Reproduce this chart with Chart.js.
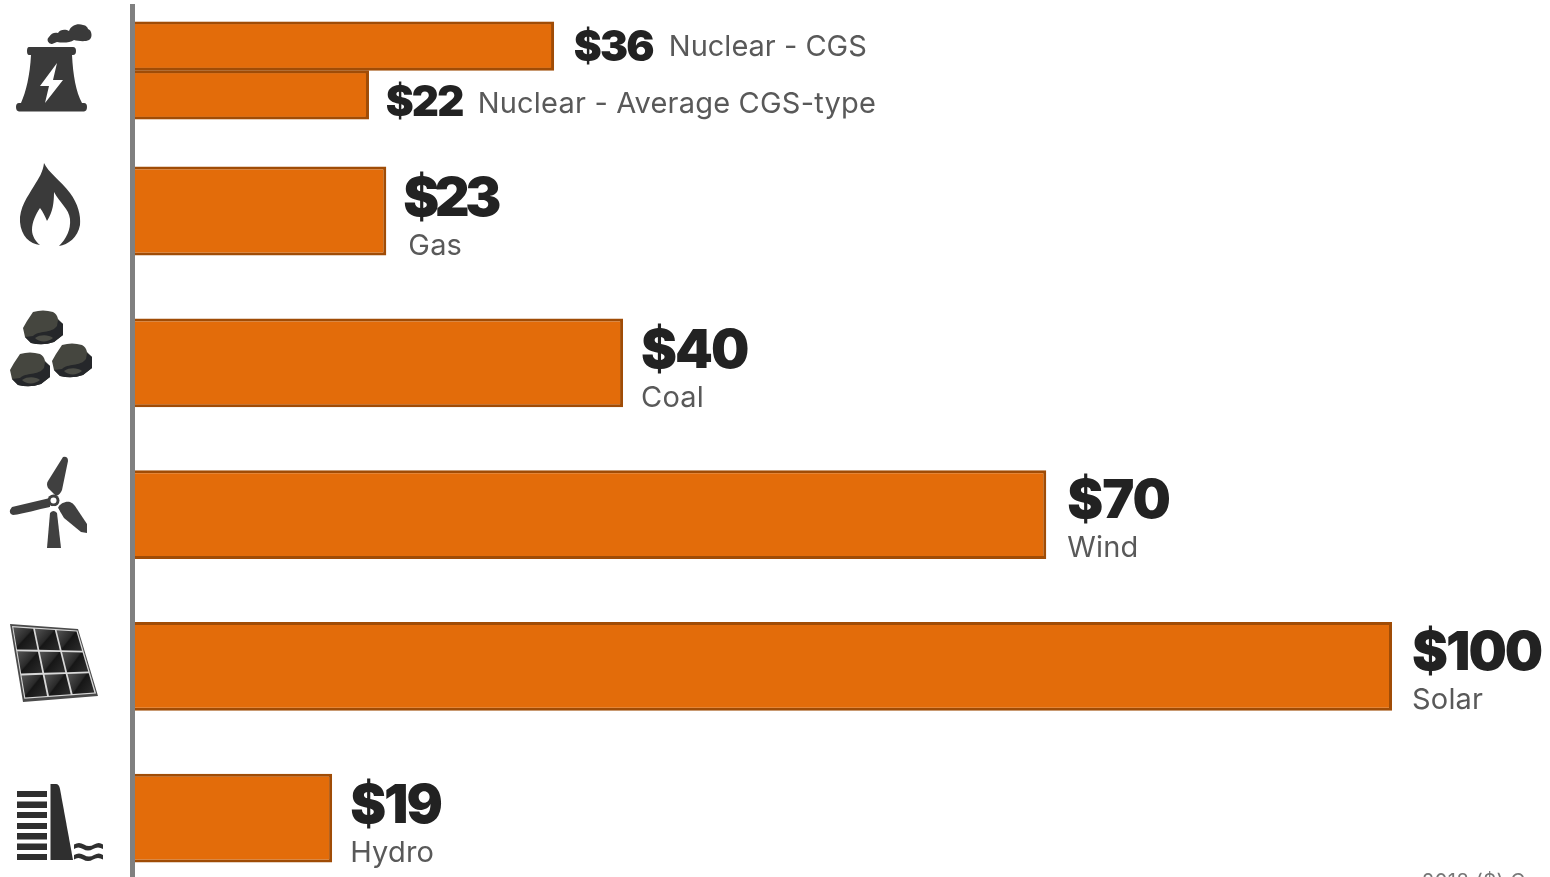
<!DOCTYPE html>
<html><head><meta charset="utf-8">
<script src="https://cdn.jsdelivr.net/npm/chart.js@4"></script>
<style>html,body{margin:0;padding:0;background:#fff;overflow:hidden;width:1550px;height:877px}canvas{display:block}</style>
</head><body><canvas id="c" width="1550" height="894"></canvas>
<script>
// Bar lengths on a 0-100 axis (drawn lengths are not strictly proportional to the printed prices)
const nuclearCategories = ["Nuclear - CGS", "Nuclear - Average CGS-type"];
const nuclearValues = [33.45, 18.75];
const nuclearPrices = ["$36", "$22"];
const sourceCategories = ["Gas", "Coal", "Wind", "Solar", "Hydro"];
const sourceValues = [20.15, 38.95, 72.55, 100, 15.85];
const sourcePrices = ["$23", "$40", "$70", "$100", "$19"];
const footnote = "2018 ($) Cost";

const FILL = "#E36C0A", EDGE = "#A04C06";
const VALUE_COLOR = "#222222", LABEL_COLOR = "#595959";
const VALUE_FAMILY = '"Inter", "Open Sans", sans-serif';
const LABEL_FAMILY = '"Inter", "Open Sans", sans-serif';

function text(ctx, s, x, y, font, color, spacing) {
  ctx.font = font; ctx.fillStyle = color; ctx.textAlign = "left"; ctx.textBaseline = "alphabetic";
  ctx.letterSpacing = (spacing || 0) + "px";
  ctx.fillText(s, x, y);
  ctx.letterSpacing = "0px";
}

const labelPlugin = {
  id: "labels",
  afterDraw(chart) {
    const ctx = chart.ctx, x = chart.scales.x;
    ctx.save();
    const yn = chart.scales.yN, y = chart.scales.y;
    nuclearCategories.forEach((c, i) => {
      const bx = x.getPixelForValue(nuclearValues[i]), cy = yn.getPixelForValue(i);
      const vx = bx + (i === 0 ? 20 : 17);
      text(ctx, nuclearPrices[i], vx, cy + (i === 0 ? 15 : 21), "900 42px " + VALUE_FAMILY, VALUE_COLOR, -1.8);
      text(ctx, c, vx + (i === 0 ? 95 : 92), cy + (i === 0 ? 10 : 18), "400 29px " + LABEL_FAMILY, LABEL_COLOR, i === 0 ? 0 : 0.2);
    });
    const nudge = [0, 0, -2, -1.5, 0];
    const spacing = [-4.5, -2, -1, -2, -2];
    const gap = [17, 18, 21, 20, 18];
    sourceCategories.forEach((c, i) => {
      const bx = x.getPixelForValue(sourceValues[i]), cy = y.getPixelForValue(i) + nudge[i];
      const vx = bx + gap[i];
      text(ctx, sourcePrices[i], vx, cy + 5, "900 54px " + VALUE_FAMILY, VALUE_COLOR, spacing[i]);
      text(ctx, c, vx + (i === 0 ? 5 : 0), cy + 44, "400 29px " + LABEL_FAMILY, LABEL_COLOR, 0.2);
    });
    text(ctx, footnote, 1422, 888, "400 20px " + LABEL_FAMILY, "#777777", 0.5);
    drawIcons(ctx);
    ctx.restore();
  }
};

function drawIcons(ctx) {
  const dark = "#3a3a3a";
  // power station
  ctx.fillStyle = dark;
  ctx.fill(new Path2D("M29 47H73Q76 47 76 51T73 55H72C73 75 76 92 82 103H84Q87 103 87 107T84 111.500H19Q16 111 16 107T19 103H21C26 92 30 75 31 55H29Q27 55 27 51T29 47Z"));
  ctx.fill(new Path2D("M52 44A4 4 0 0 1 49 37C51 33 55 32 58 33C60 29 66 29 69 31C71 25 78 23 83 25C86 25 88 28 88 29C92 30 93 38 89 40C85 42 78 41 74 40C70 43 62 43 57 42Z"));
  ctx.fillStyle = "#fff";
  ctx.fill(new Path2D("M57 63L40 86H49L45 103L63 80H53Z"));
  // flame
  ctx.fillStyle = dark;
  ctx.fill(new Path2D("M44 163C48 172 60 180 70 193C78 204 81 215 80 225C78 237 68 245 59 246C66 239 71 230 70 219C69 209 60 203 54 192C54 202 53 212 47 221C45 216 43 212 40 208C36 214 32 222 32 230C32 236 36 242 40 245C30 244 21 236 20 222C19 208 28 196 34 186C39 178 43 172 44 163Z"));
  // coal
  const rock = (dx, dy) => {
    ctx.save(); ctx.translate(dx, dy);
    ctx.fillStyle = "#45463f";
    ctx.fill(new Path2D("M10 2Q20 -1 30 2Q34 4 35 9L40 14V25L31 32Q20 36 8 33L2 27L0 18L4 11Z"));
    ctx.fillStyle = "#25272a";
    ctx.fill(new Path2D("M35 10L40 14V25L31 32Q20 36 8 33L2 27L10 26C16 20 28 24 34 16Z"));
    ctx.fillStyle = "#4c4d46";
    ctx.fill(new Path2D("M12 28C18 24 26 25 30 28C24 33 16 32 12 28Z"));
    ctx.restore();
  };
  rock(23, 310); rock(10, 352); rock(52, 343);
  // wind turbine
  ctx.fillStyle = "#404040";
  ctx.fill(new Path2D("M63 457Q68 456 68 461L62 490Q60 495 56 496L48 488Q46 484 48 481Z"));
  ctx.fill(new Path2D("M12 507L50 498L50 507C38 509 24 514 13 515Q9 514 10 510Z"));
  ctx.fill(new Path2D("M58 508C60 503 66 501 70 502Q73 503 75 506L87 524V533L81 532L64 518Z"));
  ctx.beginPath(); ctx.arc(53.5, 500.5, 6, 0, 7); ctx.fill();
  ctx.fillStyle = "#fff";
  ctx.beginPath(); ctx.arc(53.5, 500.5, 3, 0, 7); ctx.fill();
  ctx.beginPath(); ctx.arc(53.5, 512, 6, Math.PI, 0); ctx.fill();
  ctx.fillStyle = "#404040";
  ctx.fill(new Path2D("M50 513Q53.500 509 57 513L61 548H47Z"));
  // solar panel
  const P = [[10, 624], [78, 629], [98, 696], [23, 702]];
  const at = (u, v) => {
    const tx = P[0][0] + (P[1][0] - P[0][0]) * u, ty = P[0][1] + (P[1][1] - P[0][1]) * u;
    const bx = P[3][0] + (P[2][0] - P[3][0]) * u, by = P[3][1] + (P[2][1] - P[3][1]) * u;
    return [tx + (bx - tx) * v, ty + (by - ty) * v];
  };
  const quad = (u0, v0, u1, v1) => {
    const a = at(u0, v0), b = at(u1, v0), c = at(u1, v1), d = at(u0, v1);
    ctx.beginPath(); ctx.moveTo(...a); ctx.lineTo(...b); ctx.lineTo(...c); ctx.lineTo(...d); ctx.closePath();
  };
  quad(0, 0, 1, 1); ctx.fillStyle = "#4a4a4a"; ctx.fill();
  quad(0.025, 0.025, 0.985, 0.96); ctx.fillStyle = "#d8d8d8"; ctx.fill();
  for (let i = 0; i < 3; i++) for (let j = 0; j < 3; j++) {
    const u0 = 0.04 + i * 0.317, v0 = 0.04 + j * 0.31, u1 = u0 + 0.292, v1 = v0 + 0.285;
    const a = at(u0, v0), c = at(u1, v1);
    const g = ctx.createLinearGradient(a[0], a[1], c[0], c[1]);
    g.addColorStop(0, "#555"); g.addColorStop(0.45, "#2a2a2a"); g.addColorStop(0.5, "#161616"); g.addColorStop(1, "#2e2e2e");
    quad(u0, v0, u1, v1); ctx.fillStyle = g; ctx.fill();
  }
  // dam
  ctx.fillStyle = "#2f2f2f";
  [[791, 797], [801.500, 808], [812, 818], [823, 829], [833, 839.500], [843.500, 850], [854, 860]].forEach(r => ctx.fillRect(17, r[0], 30, r[1] - r[0]));
  ctx.fill(new Path2D("M50.500 860V784H56Q59 784 60 789L73 860Z"));
  const wave = y => "M74 " + y + "q5 -3 10 0t10 0t9 0v4.500q-5 -3 -10 0t-10 0t-9 0z";
  ctx.fill(new Path2D(wave(844.5))); ctx.fill(new Path2D(wave(855)));
}

const hidden = { axis: "y", position: "left", display: false, offset: true, stack: "rows", grid: { display: false } };
new Chart(document.getElementById("c"), {
  type: "bar",
  data: {
    datasets: [
      { label: "Nuclear", yAxisID: "yN", grouped: false, data: nuclearCategories.map((c, i) => ({ x: nuclearValues[i], y: c })),
        backgroundColor: FILL, borderColor: EDGE, borderWidth: 3, categoryPercentage: 1, barPercentage: 1 },
      { label: "Sources", yAxisID: "y", grouped: false, data: sourceCategories.map((c, i) => ({ x: sourceValues[i], y: c })),
        backgroundColor: FILL, borderColor: EDGE, borderWidth: 3, categoryPercentage: 1, barPercentage: 0.585 }
    ]
  },
  options: {
    indexAxis: "y", responsive: false, animation: false,
    layout: { padding: { left: 132.5, right: 158, top: 4, bottom: 0 } },
    plugins: { legend: { display: false }, tooltip: { enabled: false } },
    scales: {
      x: { type: "linear", position: "bottom", min: 0, max: 100, border: { display: false },
           ticks: { display: false, stepSize: 100 },
           grid: { z: 1, lineWidth: 5, drawTicks: false, color: c => c.tick && c.tick.value === 0 ? "#808080" : "transparent" } },
      padTop: { ...hidden, type: "linear", stackWeight: 17.5, weight: 4 },
      yN: { ...hidden, type: "category", labels: nuclearCategories, stackWeight: 98, weight: 3 },
      gap: { ...hidden, type: "linear", stackWeight: 15.6, weight: 2 },
      y: { ...hidden, type: "category", labels: sourceCategories, stackWeight: 758.75, weight: 1 }
    }
  },
  plugins: [labelPlugin]
});
</script></body></html>
